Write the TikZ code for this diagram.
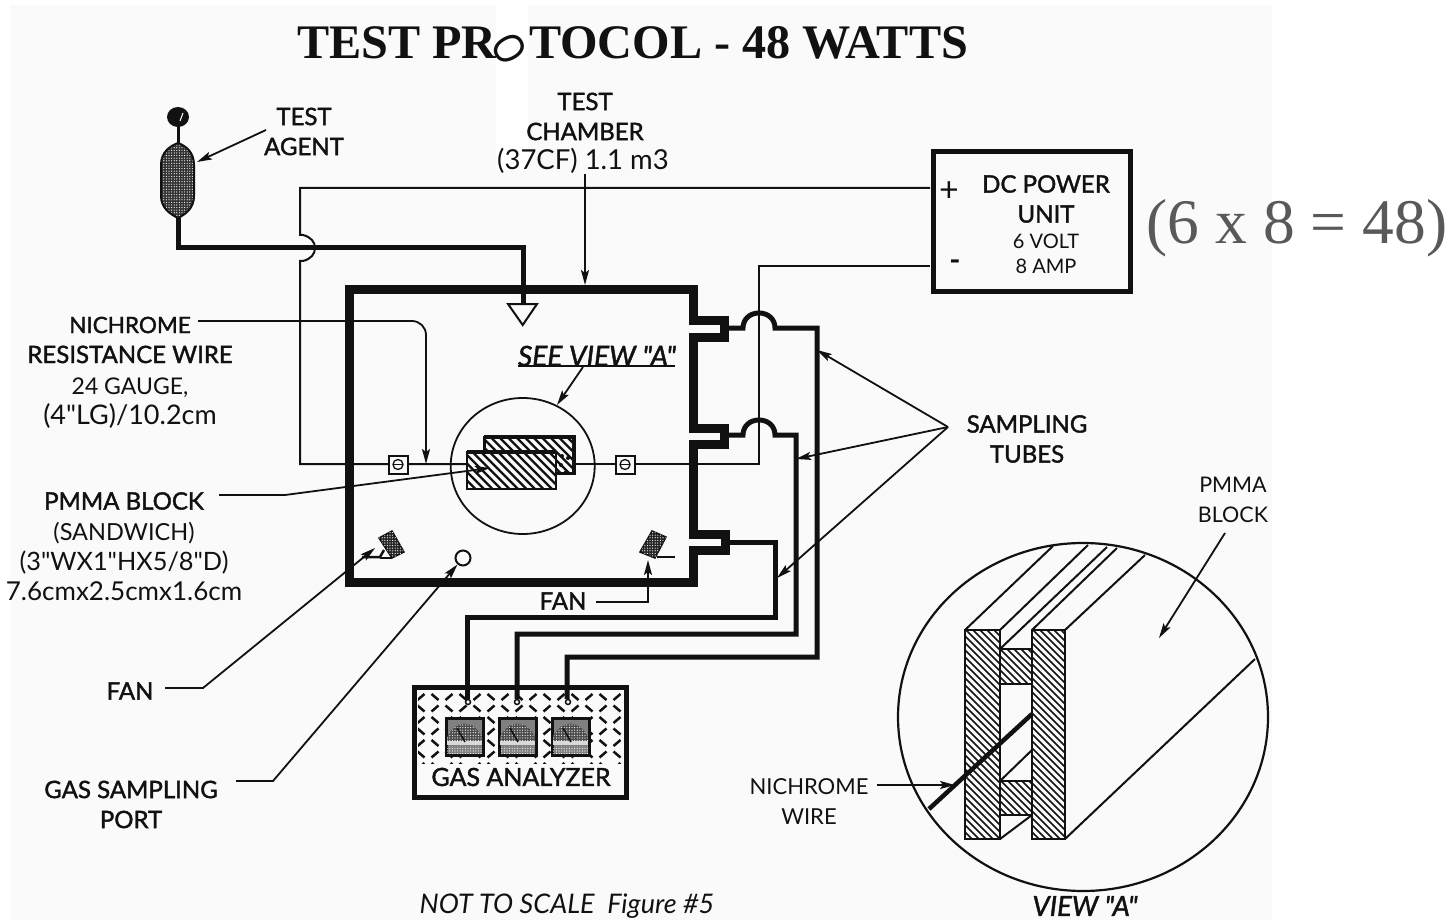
\documentclass[tikz,border=0pt]{standalone}
\usepackage{fontspec}
\setmainfont{Lato}
\newfontfamily\labfont[FakeBold=1.6]{Lato}
\newfontfamily\thinlab{Lato}
\newfontfamily\serifb{Liberation Serif}
\newfontfamily\ringfont{Liberation Sans}
\usetikzlibrary{arrows.meta,patterns.meta}
\definecolor{paper}{HTML}{FAFAFA}
\definecolor{ink}{HTML}{111111}
\tikzset{
 wall/.style={draw=ink,line width=9pt,line join=miter},
 pipe/.style={draw=ink,line width=5pt,line join=miter},
 wire/.style={draw=ink,line width=2pt,rounded corners=0pt},
 lead/.style={draw=ink,line width=1.8pt,-{Stealth[length=15pt,width=8pt,inset=3pt]}},
 thin/.style={draw=ink,line width=1.8pt},
 lab/.style={align=center,inner sep=0pt,font=\labfont\fontsize{24}{30}\selectfont,text=ink},
 labl/.style={align=center,inner sep=0pt,font=\thinlab\fontsize{24}{30}\selectfont,text=ink},
 labs/.style={align=center,inner sep=0pt,font=\thinlab\fontsize{20}{25}\selectfont,text=ink},
 ital/.style={inner sep=0pt,font=\labfont\itshape\fontsize{28}{30}\selectfont,text=ink},
 dotty/.style={pattern={Dots[radius=0.6pt,distance=2.6pt]},pattern color=white},
}
\newcommand{\hatchbox}[7]{%
 \begin{scope}
 \clip (#1,#2) rectangle (#3,#4);
 \pgfmathsetmacro{\ca}{#1-#4}
 \pgfmathsetmacro{\cb}{#3-#2}
 \pgfmathsetmacro{\cn}{\ca+#5}
 \foreach \cc in {\ca,\cn,...,\cb}{\draw[ink,line width=#6pt] (\cc+#2,#2) -- (\cc+#4,#4);}
 \end{scope}
 \draw[ink,line width=#7pt] (#1,#2) rectangle (#3,#4);
}
\begin{document}
\begin{tikzpicture}[x=1pt,y=-1pt]
\useasboundingbox (0,0) rectangle (1454,920);
\fill[white] (0,0) rectangle (1454,920);
\fill[paper] (10,5) rectangle (1272,920);
\fill[white] (496,0) rectangle (528,170);

% title
\node[anchor=base west,inner sep=0pt,font=\serifb\bfseries\fontsize{48.2}{50}\selectfont,text=ink] (t1) at (297,59) {TEST PR};
\node[anchor=base west,inner sep=0pt,font=\serifb\bfseries\fontsize{48.2}{50}\selectfont,text=ink] (t2) at (529,59) {TOCOL - 48 WATTS};
\node[rotate=-60,yscale=1.25,transform shape,inner sep=0pt,font=\ringfont\fontsize{35}{35}\selectfont,text=ink] (t3) at (509,49) {O};
\node[inner sep=0pt,font=\serifb\fontsize{63.5}{64}\selectfont,text=black!65] (sum) at (1297,228) {(6 x 8 = 48)};

% test agent bottle
\coordinate (cyl) at (178,218);
\coordinate (cylb) at (178,248);
\coordinate (tdrop) at (523,304);
\draw[pipe] (cyl) -- (cylb) -- (523,248) -- (tdrop);
\draw[draw=ink,line width=3pt] (178,120) -- (178,145);
\fill[ink] (178,117) ellipse [x radius=11pt,y radius=10pt];
\draw[white,line width=1pt] (180,121) -- (183,113);
\path[fill=black!80] (161,165) .. controls (161,152) and (170,146) .. (178,143) .. controls (186,146) and (194,152) .. (194,165) -- (194,196) .. controls (194,208) and (186,214) .. (178,218) .. controls (170,214) and (161,208) .. (161,196) -- cycle;
\path[dotty,draw=ink,line width=2pt] (161,165) .. controls (161,152) and (170,146) .. (178,143) .. controls (186,146) and (194,152) .. (194,165) -- (194,196) .. controls (194,208) and (186,214) .. (178,218) .. controls (170,214) and (161,208) .. (161,196) -- cycle;

% chamber
\draw[wall] (349.5,289) -- (693,289) -- (693,320) -- (724,320) -- (724,337) -- (693,337) -- (693,428) -- (724,428) -- (724,444) -- (693,444) -- (693,534) -- (725,534) -- (725,550) -- (693,550) -- (693,582) -- (349.5,582) -- cycle;
\draw[draw=ink,line width=2pt,fill=paper,line join=miter] (tdrop) ++(-15,0) -- ++(29,0) -- (522.7,325) -- cycle;

% DC unit
\node[draw=ink,line width=5pt,minimum width=197pt,minimum height=139pt,inner sep=0pt] (dc) at (1032,221.5) {};
\node[inner sep=0pt,font=\thinlab\fontsize{34}{34}\selectfont,text=ink] (plus) at (949,192) {+};
\node[inner sep=0pt,font=\thinlab\bfseries\fontsize{30}{30}\selectfont,text=ink] (minus) at (955,265) {-};
\node[lab] (dcl) at (1046,199) {DC POWER\\UNIT};
\node[labs] (dcv) at (1046,253.5) {6 VOLT\\8 AMP};

% wires
\coordinate (dcp) at (930,188);
\coordinate (dcm) at (930,266);
\coordinate (lw) at (470,464);
\coordinate (rw) at (575,464);
\draw[wire] (dcp) -- (300,188) -- (300,235) -- (303,235) .. controls (311,237) and (315,242) .. (315,248) .. controls (315,254) and (311,259) .. (303,261) -- (300,261) -- (300,464) -- (lw);
\draw[wire] (rw) -- (759,464) -- (759,266) -- (dcm);

% analyzer
\node[draw=ink,line width=5pt,fill=paper,minimum width=212pt,minimum height=110pt,inner sep=0pt] (ga) at (520,742) {};
\begin{scope}
\clip (418,692) rectangle (622,763);
\foreach \r in {0,...,6}{
 \foreach \c in {0,...,15}{
  \pgfmathtruncatemacro{\pp}{mod(\r+\c,2)}
  \pgfmathsetmacro{\dx}{421+\c*14}
  \pgfmathsetmacro{\dy}{697+\r*11.5}
  \ifnum\pp=0
   \draw[ink,line width=2.5pt] (\dx-3.5,\dy+3) -- (\dx+3.5,\dy-3);
  \else
   \draw[ink,line width=2.5pt] (\dx-3.5,\dy-3) -- (\dx+3.5,\dy+3);
  \fi
 }
}
\end{scope}
\foreach \nm/\mx in {ma/446,mb/499,mc/552}{
 \path[fill=black!50,draw=ink,line width=3pt] (\mx,718) rectangle (\mx+37,755);
 \path[fill=black!70] (\mx+1,737) .. controls (\mx+10,719) and (\mx+27,719) .. (\mx+36,737) -- (\mx+36,741) -- (\mx+1,741) -- cycle;
 \path[dotty] (\mx+1,737) .. controls (\mx+10,719) and (\mx+27,719) .. (\mx+36,737) -- (\mx+36,741) -- (\mx+1,741) -- cycle;
 \fill[black!15] (\mx+1,741) rectangle (\mx+36,745);
 \path[dotty] (\mx+1,746) rectangle (\mx+36,753);
 \draw[ink,line width=1.5pt] (\mx+11,728) -- (\mx+19,742);
}

% tubes
\draw[pipe] (726,328) -- (743,328) .. controls (743,319) and (750,313) .. (759,313) .. controls (768,313) and (775,319) .. (775,328) -- (817,328) -- (817,657) -- (567,657) -- (567,699);
\draw[pipe] (726,435) -- (743,435) .. controls (743,426) and (750,420) .. (759,420) .. controls (768,420) and (775,426) .. (775,435) -- (796,435) -- (796,634) -- (517,634) -- (517,699);
\draw[pipe] (726,542) -- (775,542) -- (775,617) -- (467,617) -- (467,699);
\foreach \nm/\mx in {pa/468,pb/517,pc/568}{
 \node[draw=ink,line width=1.5pt,circle,fill=paper,minimum size=5pt,inner sep=0pt] (\nm) at (\mx,702) {};
}
\node[lab,font=\labfont\fontsize{25}{30}\selectfont] (gal) at (521,777) {GAS ANALYZER};

% view circle and blocks
\draw[thin] (522.7,466) ellipse [x radius=72pt,y radius=68pt];
\hatchbox{484}{437}{574}{473}{8.5}{2.2}{3}
\draw[ink,line width=4pt] (484,437) -- (574,437) -- (574,473);
\fill[paper] (467,452) rectangle (556,489);
\hatchbox{467}{452}{556}{489}{8.5}{2.2}{2.5}
\draw[ink,line width=4.5pt] (467,452) -- (556,452);
\foreach \px/\py in {561/465,566/472,562/456,568/458}{\fill[ink] (\px,\py) circle [radius=2pt];}

% terminals
\foreach \nm/\cx in {tl/398,tr/625}{
 \node[draw=ink,line width=2pt,fill=paper,minimum width=19pt,minimum height=18pt,inner sep=0pt] (\nm) at (\cx,464.5) {};
 \draw[ink,line width=1.3pt] (\cx,464.5) ellipse [x radius=5pt,y radius=5pt];
 \draw[ink,line width=1.3pt] (\cx-5,464.5) -- (\cx+5,464.5);
}

% fans
\path[fill=black!85,draw=ink,line width=1.5pt] (379,538) -- (392,531) -- (404,552) -- (392,558) -- cycle;
\path[dotty] (379,538) -- (392,531) -- (404,552) -- (392,558) -- cycle;
\draw[ink,line width=2.5pt] (384,550) -- (380,557) -- (362,557);
\draw[ink,line width=2.5pt] (380,558) -- (392,558);
\path[fill=black!85,draw=ink,line width=1.5pt] (640,552) -- (652,531) -- (666,537) -- (655,558) -- cycle;
\path[dotty] (640,552) -- (652,531) -- (666,537) -- (655,558) -- cycle;
\draw[ink,line width=2.5pt] (657,557) -- (675,557);
\node[draw=ink,line width=2pt,circle,fill=paper,minimum size=15pt,inner sep=0pt] (port) at (463,558) {};

% labels
\node[lab] (agent) at (304,131.5) {TEST\\AGENT};
\node[lab] (tc) at (585,116.5) {TEST\\CHAMBER};
\node[labl,font=\thinlab\fontsize{27.5}{30}\selectfont] (tcv) at (583,161) {(37CF) 1.1 m3};
\node[lab] (ni) at (130,340) {\fontsize{22.5}{30}\selectfont NICHROME\\\fontsize{24}{30}\selectfont RESISTANCE WIRE};
\node[labl] (nis) at (130,403) {\fontsize{23}{30}\selectfont 24 GAUGE,\\\fontsize{27}{30}\selectfont (4"LG)/10.2cm};
\node[lab] (pm) at (124,501) {PMMA BLOCK};
\node[labl] (pms) at (124,561) {\fontsize{23.5}{30}\selectfont (SANDWICH)\\\fontsize{25.3}{30}\selectfont (3"WX1"HX5/8"D)\\\fontsize{26}{30}\selectfont 7.6cmx2.5cmx1.6cm};
\node[lab] (fanl) at (130,691) {FAN};
\node[lab] (fanr) at (563,601) {FAN};
\node[lab] (gsp) at (131,804.5) {GAS SAMPLING\\PORT};
\node[lab] (st) at (1027,439) {SAMPLING\\TUBES};
\node[labl,font=\thinlab\fontsize{21.5}{30}\selectfont] (pmr) at (1233,500) {PMMA\\BLOCK};
\node[labl,font=\thinlab\fontsize{22}{30}\selectfont] (nw) at (809,801.5) {NICHROME\\WIRE};
\node[ital] (see) at (597,356) {SEE VIEW "A"};
\draw[thin] (518,366) -- (675,366);
\node[ital,font=\labfont\itshape\fontsize{27.5}{30}\selectfont] (va) at (1085,906) {VIEW "A"};
\node[ital,font=\thinlab\itshape\fontsize{27}{30}\selectfont] (nts) at (567,906) {NOT TO SCALE\ \ Figure \#5};

% leaders
\coordinate (a0) at (266,130); \coordinate (a1) at (197,162);
\draw[lead] (a0) -- (a1);
\coordinate (b0) at (585,174); \coordinate (b1) at (585,285);
\draw[lead] (b0) -- (b1);
\coordinate (c0) at (198,321); \coordinate (c1) at (426,464);
\draw[lead,rounded corners=14pt] (c0) -- (426,321) -- (c1);
\coordinate (d0) at (219,495); \coordinate (d1) at (490,468);
\draw[lead] (d0) -- (285,495) -- (d1);
\coordinate (e0) at (583,367); \coordinate (e1) at (557,405);
\draw[lead] (e0) -- (e1);
\coordinate (f0) at (165,688); \coordinate (f1) at (375,548);
\draw[lead] (f0) -- (203,688) -- (f1);
\coordinate (g0) at (236,781);
\draw[lead] (g0) -- (273,781) -- (port);
\coordinate (h0) at (596,602); \coordinate (h1) at (648,560);
\draw[lead] (h0) -- (648,602) -- (h1);
\coordinate (s0) at (948,427);
\draw[lead] (s0) -- (817,350);
\draw[lead] (s0) -- (796,459);
\draw[lead] (s0) -- (777,578);

% view A
\draw[ink,line width=2.2pt] (1083,717) ellipse [x radius=185pt,y radius=174pt];
\begin{scope}
\clip (1083,717) ellipse [x radius=185pt,y radius=174pt];
\draw[ink,line width=2pt] (965,630) -- (1053,546);
\draw[ink,line width=2pt] (1000,630) -- (1088,545);
\draw[ink,line width=2pt] (1000,649) -- (1107,547);
\draw[ink,line width=2pt] (1032,630) -- (1117,548);
\draw[ink,line width=2pt] (1065,630) -- (1145,555);
\draw[ink,line width=2pt] (1065,839) -- (1255,659);
\draw[ink,line width=2pt] (1000,781) -- (1032,750);
\draw[ink,line width=2pt] (1000,839) -- (1032,815);
\end{scope}
\hatchbox{965}{630}{1000}{839}{7}{1.7}{2.2}
\hatchbox{1032}{630}{1065}{839}{7}{1.7}{2.2}
\hatchbox{1000}{649}{1032}{684}{7}{1.7}{2.2}
\hatchbox{1000}{781}{1032}{815}{7}{1.7}{2.2}
\coordinate (w0) at (929,809); \coordinate (w1) at (1032,714);
\draw[ink,line width=4.5pt] (w0) -- (w1);
\coordinate (i0) at (877,785); \coordinate (i1) at (955,785);
\draw[lead] (i0) -- (i1);
\coordinate (j0) at (1225,533); \coordinate (j1) at (1159,638);
\draw[lead] (j0) -- (j1);
\end{tikzpicture}
\end{document}
